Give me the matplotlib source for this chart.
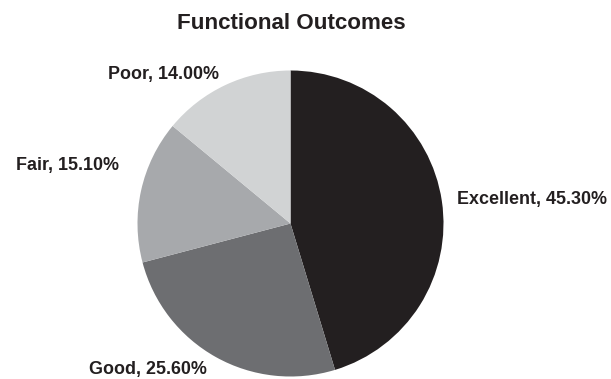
import matplotlib
matplotlib.use("Agg")
import matplotlib.pyplot as plt

categories = ["Excellent", "Good", "Fair", "Poor"]
values = [45.3, 25.6, 15.1, 14.0]
colors = ["#231f20", "#6d6e71", "#a7a9ac", "#d1d3d4"]
title = "Functional Outcomes"

W, H = 611, 379
fig = plt.figure(figsize=(W / 100, H / 100), dpi=100)
cx, cy, r = 290.5, 379 - 223.5, 153.0
ax = fig.add_axes([(cx - r) / W, (cy - r) / H, 2 * r / W, 2 * r / H])
ax.pie(values, colors=colors, startangle=90, counterclock=False,
       wedgeprops=dict(linewidth=0), radius=1.0)
ax.set_xlim(-1, 1)
ax.set_ylim(-1, 1)
ax.set_aspect("equal")
ax.axis("off")

font = dict(family=["Liberation Sans", "DejaVu Sans"], fontweight="bold",
            color="#231f20", fontsize=12.9)
label_pos = [(1.088, 0.160, "left"), (-0.546, -0.955, "right"),
             (-1.121, 0.376, "right"), (-0.467, 0.974, "right")]
for cat, val, (x, y, ha) in zip(categories, values, label_pos):
    ax.text(x, y, f"{cat}, {val:.2f}%", ha=ha, va="center", clip_on=False, **font)

fig.text(291 / W, 1 - 23.5 / H, title, ha="center", va="center",
         family=["Liberation Sans", "DejaVu Sans"], fontweight="bold",
         color="#231f20", fontsize=16.1)

fig.savefig("out.png", dpi=100, facecolor="white")
